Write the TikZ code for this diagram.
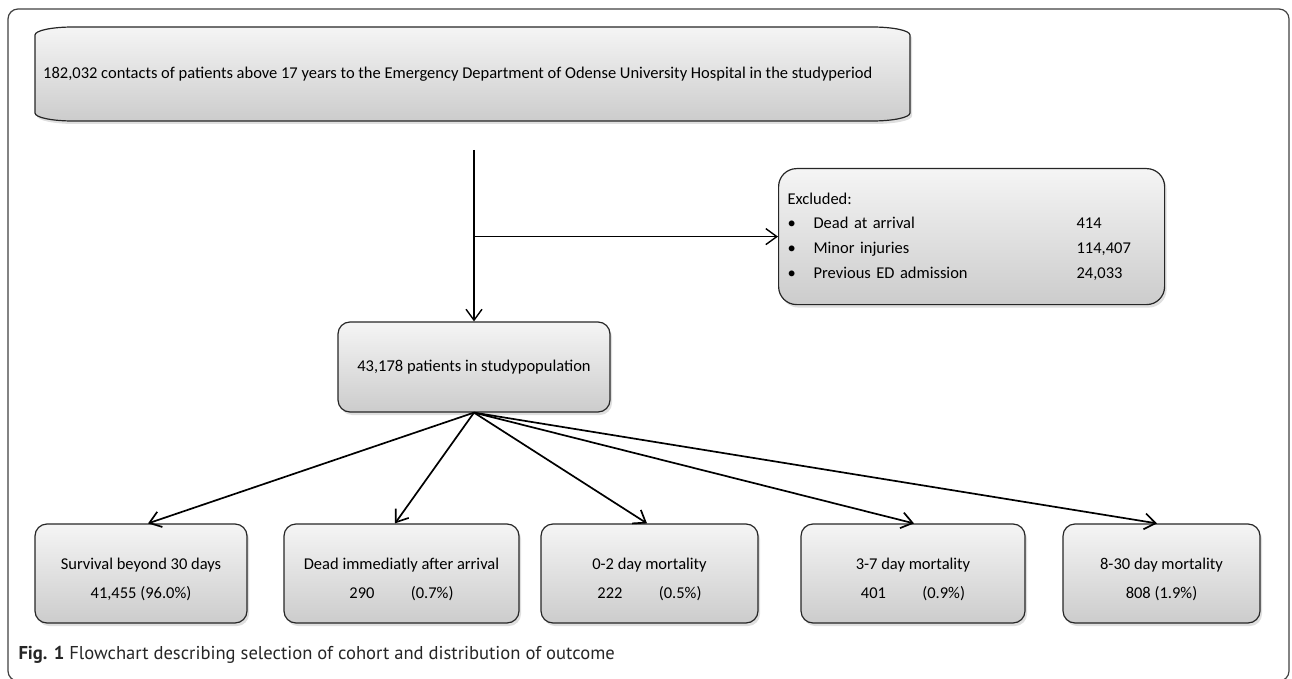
\documentclass[tikz,border=0pt]{standalone}
\usepackage{fontspec}
\setmainfont{Carlito}
\newfontfamily\capfont{PT Sans}
\usetikzlibrary{arrows.meta,calc,shadows,positioning}

\tikzset{
  boxlook/.style={draw=black!85, line width=1.2pt, top color=black!4, bottom color=black!20,
    drop shadow={shadow xshift=2pt, shadow yshift=-3pt, opacity=0.25}},
  flowbox/.style={boxlook, rounded corners=12pt, align=center, inner sep=4pt,
    font=\fontsize{16.5}{29}\selectfont},
  outbox/.style={flowbox, minimum height=99pt},
  flowarrow/.style={-{Straight Barb[length=11pt,width=16pt]}, line width=1.4pt},
  fanarrow/.style={flowarrow, line width=1.7pt},
}

\begin{document}
\begin{tikzpicture}[x=1pt, y=-1pt]
  \useasboundingbox (0,0) rectangle (1292,679);
  % outer frame
  \draw[black!75, line width=1.2pt, rounded corners=10pt] (8,9) rectangle (1289,681);

  % top box with flattened corners
  \coordinate (srcnw) at (35,27);
  \coordinate (srcse) at (910,121);
  \path[boxlook]
    ($(srcnw)+(38,0)$) -- ($(srcse|-srcnw)+(-38,0)$)
      .. controls +(21,0) and +(0,-4.5) .. ($(srcse|-srcnw)+(0,8)$)
    -- ($(srcse)+(0,-8)$)
      .. controls +(0,4.5) and +(21,0) .. ($(srcse)+(-38,0)$)
    -- ($(srcnw|-srcse)+(38,0)$)
      .. controls +(-21,0) and +(0,4.5) .. ($(srcnw|-srcse)+(0,-8)$)
    -- ($(srcnw)+(0,8)$)
      .. controls +(0,-4.5) and +(-21,0) .. ($(srcnw)+(38,0)$) -- cycle;
  \node[anchor=west, inner xsep=8pt, font=\fontsize{16.5}{20}\selectfont] (src) at ($(srcnw)!0.5!(srcse)-(437.5,0)$)
    {182,032 contacts of patients above 17 years to the Emergency Department of Odense University Hospital in the studyperiod};

  % study population
  \node[flowbox, minimum width=272pt, minimum height=90pt] (pop) at (474,367) {43,178 patients in studypopulation};

  % excluded
  \node[flowbox, rounded corners=18pt, anchor=north west, align=left, text width=368pt,
    minimum height=136pt, inner xsep=9pt, font=\fontsize{16.5}{24.7}\selectfont] (excl) at (778,168)
    {Excluded:\\
     \makebox[26pt][l]{\textbullet}\makebox[263pt][l]{Dead at arrival}414\\
     \makebox[26pt][l]{\textbullet}\makebox[263pt][l]{Minor injuries}114,407\\
     \makebox[26pt][l]{\textbullet}\makebox[263pt][l]{Previous ED admission}24,033};

  \coordinate (vtop) at (pop.north |- 0,150);
  \coordinate (split) at (pop.north |- excl.west);
  \draw[flowarrow] (vtop) -- (pop.north);
  \draw[flowarrow] (split) -- (excl.west);

  % outcome boxes
  \foreach \nm/\cx/\bw/\tx/\txt in {
      surv/141/212/148/{Survival beyond 30 days\\41,455 (96.0\%)},
      dead/401.5/235/395/{Dead immediatly after arrival\\290\hspace{2.2em}(0.7\%)},
      dzero/649.5/217/647/{0-2 day mortality\\222\hspace{2.2em}(0.5\%)},
      dthree/913/224/914/{3-7 day mortality\\401\hspace{2.2em}(0.9\%)},
      deight/1161.5/197/1157/{8-30 day mortality\\808 (1.9\%)}} {
    \node[outbox, minimum width=\bw pt] (\nm) at (\cx,573.5) {\rule{0pt}{23.5pt}\txt};
    \draw[fanarrow] (pop.south) -- (\nm.north -| \tx,0);
  }

  \node[anchor=west, font=\capfont\fontsize{18.6}{20}\selectfont, text=black!85] (cap) at (15,655)
    {\textbf{Fig. 1} Flowchart describing selection of cohort and distribution of outcome};
\end{tikzpicture}
\end{document}
